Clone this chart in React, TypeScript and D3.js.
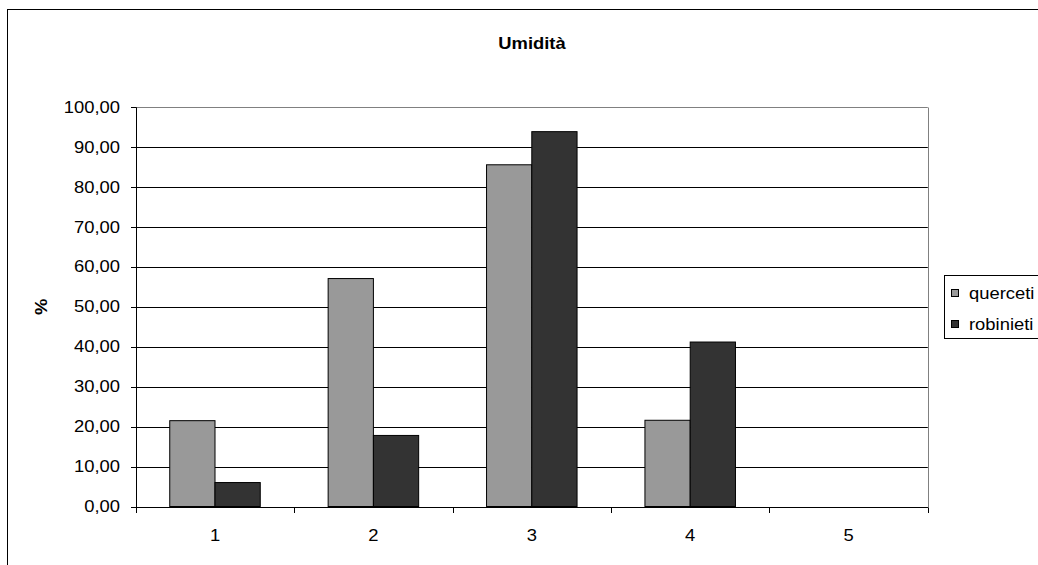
import React from "react";
import * as d3 from "d3";

// Humidity classes and share (%) per stand type
const categories = ["1", "2", "3", "4", "5"];
const querceti = [21.5, 57.1, 85.6, 21.6, 0];
const robinieti = [6.0, 17.8, 93.9, 41.2, 0];
const seriesNames = ["querceti", "robinieti"];
const seriesColors = ["#999999", "#333333"];
const yTicks = [0, 10, 20, 30, 40, 50, 60, 70, 80, 90, 100];

const W = 1038;
const H = 565;
const plot = { left: 135.8, right: 927.8, top: 107.3, bottom: 506.5 };
const FONT = "Liberation Sans, Arial, sans-serif";
const STRETCH = 1.15;

export default function App() {
  const x0 = d3
    .scaleBand<string>()
    .domain(categories)
    .range([plot.left, plot.right])
    .paddingInner(0)
    .paddingOuter(0);
  const groupW = x0.bandwidth() / 1.75;
  const x1 = d3
    .scaleBand<string>()
    .domain(seriesNames)
    .range([0, groupW])
    .padding(0);
  const y = d3.scaleLinear().domain([0, 100]).range([plot.bottom, plot.top]);
  const fmt = (v: number) => d3.format(".2f")(v).replace(".", ",");
  const series = [querceti, robinieti];

  const stretchedText = (
    xPos: number,
    yPos: number,
    txt: string,
    anchor: "start" | "middle" | "end",
    size: number,
    bold = false,
    key?: string
  ) => (
    <g key={key} transform={`translate(${xPos},${yPos}) scale(${STRETCH},1)`}>
      <text
        x={0}
        y={0}
        textAnchor={anchor}
        fontFamily={FONT}
        fontSize={size}
        fontWeight={bold ? "bold" : "normal"}
        fill="#000"
      >
        {txt}
      </text>
    </g>
  );

  return (
    <svg
      width={W}
      height={H}
      style={{ position: "absolute", left: 0, top: 0, display: "block", background: "#fff" }}
    >
      {/* chart frame */}
      <rect x={7.5} y={9.5} width={W + 20} height={H + 20} fill="#fff" stroke="#000" strokeWidth={1} />

      {/* title */}
      {stretchedText(532, 49, "Umidità", "middle", 16, true)}

      {/* gridlines */}
      {yTicks.map((t) => (
        <line
          key={"g" + t}
          x1={plot.left}
          x2={plot.right}
          y1={Math.round(y(t)) + 0.5}
          y2={Math.round(y(t)) + 0.5}
          stroke={t === 100 ? "#808080" : "#000"}
          strokeWidth={1}
        />
      ))}
      {/* plot area right border */}
      <line
        x1={Math.round(plot.right) + 0.5}
        x2={Math.round(plot.right) + 0.5}
        y1={Math.round(plot.top) + 0.5}
        y2={Math.round(plot.bottom) + 0.5}
        stroke="#808080"
      />

      {/* bars */}
      {categories.map((c, i) => (
        <g key={"c" + c} transform={`translate(${x0(c)! + (x0.bandwidth() - groupW) / 2},0)`}>
          {seriesNames.map((s, j) =>
            series[j][i] > 0 ? (
              <rect
                key={s}
                x={x1(s)!}
                y={y(series[j][i])}
                width={x1.bandwidth()}
                height={y(0) - y(series[j][i])}
                fill={seriesColors[j]}
                stroke="#000"
                strokeWidth={1}
              />
            ) : null
          )}
        </g>
      ))}

      {/* y axis */}
      <line
        x1={Math.round(plot.left) + 0.5}
        x2={Math.round(plot.left) + 0.5}
        y1={Math.round(plot.top) + 0.5}
        y2={Math.round(plot.bottom) + 0.5}
        stroke="#000"
      />
      {yTicks.map((t) => (
        <g key={"yt" + t}>
          <line
            x1={Math.round(plot.left) - 5}
            x2={Math.round(plot.left) + 0.5}
            y1={Math.round(y(t)) + 0.5}
            y2={Math.round(y(t)) + 0.5}
            stroke="#000"
          />
          {stretchedText(120, y(t) + 5.5, fmt(t), "end", 16, false)}
        </g>
      ))}

      {/* x axis */}
      <line
        x1={plot.left}
        x2={plot.right}
        y1={Math.round(plot.bottom) + 0.5}
        y2={Math.round(plot.bottom) + 0.5}
        stroke="#000"
      />
      {[...categories.map((c) => x0(c)!), plot.right].map((tx, i) => (
        <line
          key={"xt" + i}
          x1={Math.round(tx) + 0.5}
          x2={Math.round(tx) + 0.5}
          y1={Math.round(plot.bottom) + 0.5}
          y2={Math.round(plot.bottom) + 6}
          stroke="#000"
        />
      ))}
      {categories.map((c) => (
        <React.Fragment key={"xl" + c}>
          {stretchedText(x0(c)! + x0.bandwidth() / 2, 541, c, "middle", 16, false)}
        </React.Fragment>
      ))}

      {/* y axis title */}
      <g transform={`translate(47,${(plot.top + plot.bottom) / 2}) rotate(-90) scale(${STRETCH},1)`}>
        <text textAnchor="middle" fontFamily={FONT} fontSize={16} fontWeight="bold" fill="#000">
          %
        </text>
      </g>

      {/* legend */}
      <rect x={944.5} y={275.5} width={120} height={63} fill="#fff" stroke="#000" strokeWidth={1} />
      {seriesNames.map((s, j) => (
        <g key={"lg" + s}>
          <rect
            x={951.5}
            y={289.5 + j * 31}
            width={7}
            height={7}
            fill={seriesColors[j]}
            stroke="#000"
            strokeWidth={1}
          />
          {stretchedText(969, 298.5 + j * 31, s, "start", 16, false)}
        </g>
      ))}
    </svg>
  );
}
